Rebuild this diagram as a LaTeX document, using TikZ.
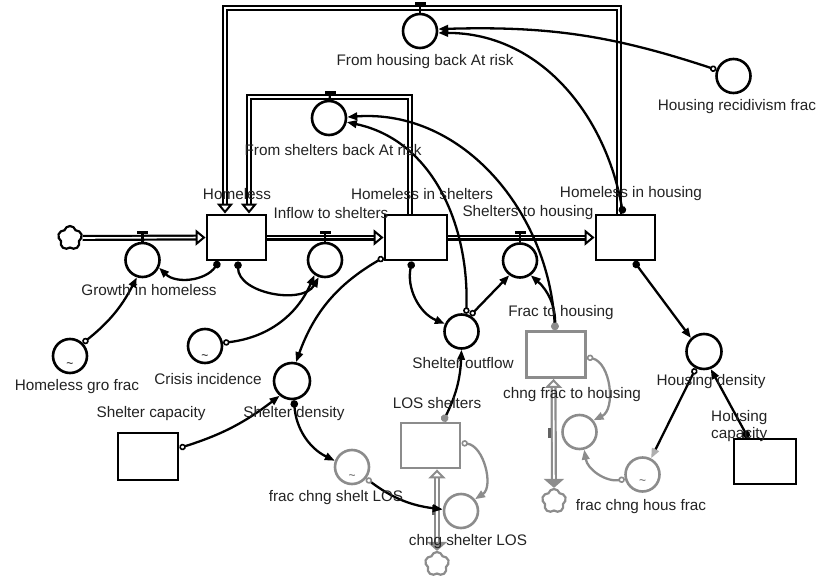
\documentclass[tikz,border=0pt]{standalone}
\usepackage{fontspec}
\setmainfont{Liberation Sans}
\usetikzlibrary{arrows.meta,shapes.symbols}
\definecolor{vgrey}{RGB}{140,140,140}
\definecolor{vtext}{RGB}{35,35,35}

\tikzset{
  stock/.style={draw, line width=2.9pt, minimum width=59pt, minimum height=45pt, inner sep=0pt},
  gstock/.style={stock, draw=vgrey},
  aux/.style={circle, draw, line width=2.6pt, minimum size=34pt, inner sep=0pt},
  gaux/.style={aux, draw=vgrey},
  lbl/.style={font=\fontsize{15.3}{16.5}\selectfont, text=vtext, inner sep=0pt},
  tilde/.style={font=\fontsize{12}{12}\selectfont, inner sep=0pt},
  cloudsrc/.style={cloud, cloud puffs=5, draw, line width=2.2pt, minimum width=24pt, minimum height=24pt, inner sep=0pt},
  gcloud/.style={cloudsrc, draw=vgrey},
  valve/.style={fill=black, minimum width=11pt, minimum height=3.5pt, inner sep=0pt, outer sep=0pt},
  gvalve/.style={fill=vgrey!70!black, minimum width=3.5pt, minimum height=10pt, inner sep=0pt, outer sep=0pt},
  pipe/.style={double=white, double distance=1.6pt, line width=2.2pt,
    arrows={-Triangle[open, length=10pt, width=16pt, line width=2pt]}},
  gpipe/.style={draw=vgrey, double=white, double distance=1.6pt, line width=2.2pt,
    arrows={Triangle[open, length=9pt, width=17pt, line width=2pt]-Triangle[length=9pt, width=20pt]}},
  stem/.style={line width=2.2pt},
  link/.style={line width=2.3pt,
    arrows={Circle[open, length=6.5pt, width=6.5pt, line width=1.6pt]-Triangle[length=10pt, width=7.5pt]}},
  dlink/.style={line width=2.3pt,
    arrows={Circle[length=7.5pt, width=7.5pt]-Triangle[length=10pt, width=7.5pt]}},
  gdlink/.style={line width=2.3pt,
    arrows={Circle[length=7.5pt, width=7.5pt, color=vgrey]-Triangle[length=10pt, width=7.5pt]}},
  gtlink/.style={line width=2.3pt,
    arrows={Circle[open, length=6.5pt, width=6.5pt, line width=1.6pt, color=vgrey]-Triangle[length=10pt, width=7.5pt]}},
  hlink/.style={line width=2.3pt,
    arrows={Circle[open, length=6.5pt, width=6.5pt, line width=1.6pt]-Triangle[length=10pt, width=7.5pt, color=vgrey!70]}},
  glink/.style={line width=2.3pt, draw=vgrey,
    arrows={Circle[open, length=6.5pt, width=6.5pt, line width=1.6pt]-Triangle[length=10pt, width=7.5pt]}},
}

\begin{document}
\begin{tikzpicture}[x=1pt, y=-1pt]
  \fill[white] (0,0) rectangle (826,580);
  \useasboundingbox (0,0) rectangle (826,580);

  % stocks
  \node[stock] (hless) at (236.5,237.5) {};
  \node[stock, minimum width=62pt] (hshelt) at (416,237.5) {};
  \node[stock] (hhouse) at (625.5,237.5) {};
  \node[stock, minimum width=60pt, minimum height=47pt] (scap) at (148,456.5) {};
  \node[stock, minimum width=62pt] (hcap) at (765,461.5) {};
  \node[gstock] (losshelt) at (430.5,445.5) {};
  \node[gstock, minimum height=46pt] (fracth) at (556,354.5) {};

  % auxiliaries and rates
  \node[aux] (growth) at (142.5,260) {};
  \node[aux] (inflow) at (325,260) {};
  \node[aux] (s2h) at (520,260.5) {};
  \node[aux] (fsback) at (329,118) {};
  \node[aux] (fhback) at (420,31) {};
  \node[aux] (gfrac) at (70,356) {};
  \node[aux] (crisis) at (205,346) {};
  \node[aux, minimum size=36pt] (sdens) at (292,381) {};
  \node[aux] (sout) at (461.5,331.5) {};
  \node[aux, minimum size=35pt] (hdens) at (704,351.5) {};
  \node[aux] (hrec) at (733.5,76) {};
  \node[gaux] (fcsl) at (352,467) {};
  \node[gaux] (cslos) at (461,511) {};
  \node[gaux] (cfth) at (579.5,432) {};
  \node[gaux] (fchf) at (642.5,474.5) {};

  % lookup marks
  \node[tilde] (gfract) at ([yshift=-9]gfrac.center) {\textasciitilde};
  \node[tilde] (crisist) at ([yshift=-11]crisis.center) {\textasciitilde};
  \node[tilde, text=vgrey!60!black] (fcslt) at ([yshift=-10]fcsl.center) {\textasciitilde};
  \node[tilde, text=vgrey!60!black] (fchft) at ([yshift=-8]fchf.center) {\textasciitilde};

  % clouds
  \node[cloudsrc] (src) at (70,238) {};
  \node[gcloud] (cloudlos) at (437,564) {};
  \node[gcloud] (cloudfrac) at (554,501) {};

  % main chain
  \draw[pipe] (src.east) -- (hless.west);
  \draw[pipe] (hless.east) -- (hshelt.west);
  \draw[pipe] (hshelt.east) -- (hhouse.west);
  \node[valve] (growthv) at (142.5,232.5) {};
  \node[valve] (inflowv) at (325,232.5) {};
  \node[valve] (s2hv) at (520,232.5) {};
  \draw[stem] (growthv) -- (growth);
  \draw[stem] (inflowv) -- (inflow);
  \draw[stem] (s2hv) -- (s2h);

  % flows back to Homeless
  \coordinate (fsbackp) at (330,97);
  \coordinate (fhbackp) at (420,8);
  \draw[pipe] ([xshift=-6]hshelt.north) |- (fsbackp) -| ([xshift=12.5]hless.north);
  \draw[pipe] ([xshift=-6.5]hhouse.north) |- (fhbackp) -| ([xshift=-11.5]hless.north);
  \node[valve] (fsbackv) at (330,92.5) {};
  \node[valve] (fhbackv) at (420,3.5) {};
  \draw[stem] (fsbackv) -- (fsback);
  \draw[stem] (fhbackv) -- (fhback);

  % grey biflows
  \draw[gpipe] ([xshift=6.5]losshelt.south) -- (cloudlos.north);
  \draw[gpipe] ([xshift=-2.5]fracth.south) -- (cloudfrac.north);
  \node[gvalve] (cslosv) at (433.5,510) {};
  \node[gvalve] (cfthv) at (549.5,433) {};

  % links
  \draw[dlink] ([xshift=-17.5]hless.south) to[bend left=50] (growth.-25);
  \draw[dlink] ([xshift=1.5]hless.south) to[out=-90, in=-120] (inflow.-110);
  \draw[link] (gfrac.45) to[bend right=12] (growth.-108);
  \draw[link] (crisis.10) to[bend right=30] (inflow.-125);
  \draw[link] ([yshift=4]hshelt.south west) to[bend right=20] (sdens.78);
  \draw[link] ([yshift=8.5]scap.east) to[bend right=10] (sdens.-130);
  \draw[dlink] (sdens.-84) to[bend right=30] (fcsl.160);
  \draw[gtlink] (fcsl.-39) to[bend right=15] (cslos.175);
  \draw[glink] ([yshift=2.5]losshelt.east) to[bend left=70] (cslos.40);
  \draw[gdlink] ([xshift=12.5]losshelt.north) to[bend right=12] (sout.-90);
  \draw[dlink] ([xshift=-4]hshelt.south) to[bend right=40] (sout.155);
  \draw[link] (sout.61) -- (s2h.-126);
  \draw[link] (sout.75) to[out=88, in=-12] (fsback.-13);
  \draw[gdlink] ([xshift=-1]fracth.north) to[out=93, in=4] (fsback.3);
  \draw[gdlink] ([xshift=-1]fracth.north) to[bend right=25] (s2h.-54);
  \draw[dlink] ([xshift=8.5]hhouse.south) -- (hdens.134);
  \draw[dlink] ([xshift=-17]hcap.north) -- (hdens.-69);
  \draw[hlink] (hdens.-116) -- (fchf.62);
  \draw[glink] (fchf.-165) to[bend left=45] (cfth.-75);
  \draw[glink] ([yshift=-2.5]fracth.east) to[bend left=70] (cfth.40);
  \draw[dlink] ([xshift=-2.5]hhouse.north) to[out=100, in=0] (fhback.-6);
  \draw[link] (hrec.160) to[bend right=10] (fhback.6);

  % labels
  \node[lbl] (hlesslbl) at (237,194) {Homeless};
  \node[lbl] (hsheltlbl) at (422,194) {Homeless in shelters};
  \node[lbl] (hhouselbl) at (631,194) {Homeless in housing};
  \node[lbl] (inflowlbl) at (331,213) {Inflow to shelters};
  \node[lbl] (s2hlbl) at (528,213) {Shelters to housing};
  \node[lbl] (growthlbl) at (149,290) {Growth in homeless};
  \node[lbl] (fhbacklbl) at (425,62) {From housing back At risk};
  \node[lbl] (fsbacklbl) at (333,150) {From shelters back At risk};
  \node[lbl] (hreclbl) at (737,107) {Housing recidivism frac};
  \node[lbl] (gfraclbl) at (77,387) {Homeless gro frac};
  \node[lbl] (crisislbl) at (208,379) {Crisis incidence};
  \node[lbl] (scaplbl) at (151,414) {Shelter capacity};
  \node[lbl] (sdenslbl) at (294,414) {Shelter density};
  \node[lbl] (soutlbl) at (463,363) {Shelter outflow};
  \node[lbl] (losshelttlbl) at (437,403) {LOS shelters};
  \node[lbl] (fracthlbl) at (561,313) {Frac to housing};
  \node[lbl] (cfthlbl) at (572,395) {chng frac to housing};
  \node[lbl] (hdenslbl) at (711,382) {Housing density};
  \node[lbl, align=left, anchor=west] (hcaplbl) at (711,426) {Housing\\capacity};
  \node[lbl] (fcsllbl) at (336,498) {frac chng shelt LOS};
  \node[lbl] (csloslbl) at (468,542) {chng shelter LOS};
  \node[lbl] (fchflbl) at (641,507) {frac chng hous frac};
\end{tikzpicture}
\end{document}
